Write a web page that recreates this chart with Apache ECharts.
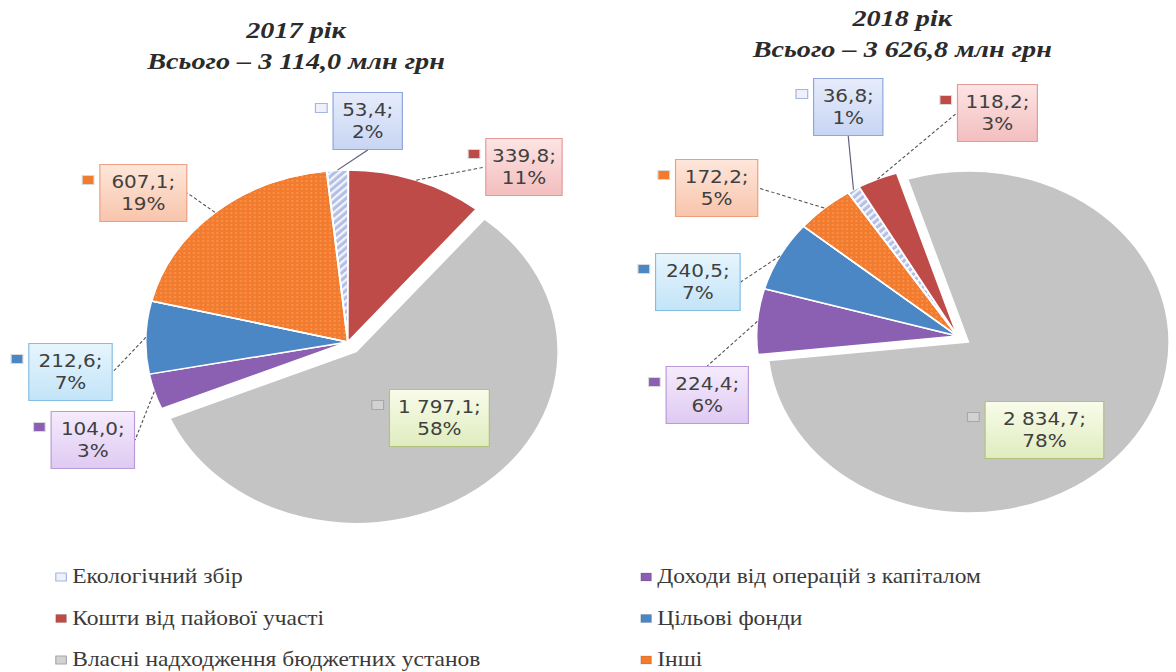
<!DOCTYPE html>
<html>
<head>
<meta charset="utf-8">
<script src="https://cdn.jsdelivr.net/npm/echarts@6/dist/echarts.min.js"></script>
<style>
html,body{margin:0;padding:0;background:#fff;overflow:hidden;}
#wrap{width:1176px;height:672px;overflow:hidden;background:#fff;}
#chart{width:1001px;height:672px;transform:scaleX(1.174825);transform-origin:0 0;}
</style>
</head>
<body>
<div id="wrap"><div id="chart"></div></div>
<script>
// ---- data ----
const categories = ['Екологічний збір', 'Кошти від пайової участі', 'Власні надходження бюджетних установ', 'Доходи від операцій з капіталом', 'Цільові фонди', 'Інші'];
const values2017 = [53.4, 339.8, 1797.1, 104.0, 212.6, 607.1];
const values2018 = [36.8, 118.2, 2834.7, 224.4, 240.5, 172.2];
const years = ['2017 рік', '2018 рік'];

// ---- styling / layout ----
const sliceColors = ['#b4bfe6', '#bf4b48', '#c4c4c4', '#8b5fb2', '#4b86c5', '#f27b2e'];
const iconColors = ['#eef1fb', '#bf4b48', '#d2d2d2', '#8b5fb2', '#4b86c5', '#f27b2e'];
const boxTop = ['#e6ecfb', '#fde4e4', '#f8fcea', '#f5ebfc', '#e6f5fd', '#fee6da'];
const boxBot = ['#c8d5f3', '#f3bebe', '#e0ecbf', '#dfcaf2', '#c3e4f8', '#f8c5ac'];
const boxBorder = ['#8ea6dc', '#e39a9a', '#b1c27c', '#b99bd9', '#84bde2', '#ee9f80'];

const centers = [[296, 342], [815, 336]];
const radii = [172, 171];
const startAngles = [96, 123];
const offsets = [12, 11];
// label boxes: centre x/y and outer width (chart space)
const labelBoxes = [
  [{cx:313, cy:121, w:58}, {cx:446, cy:167, w:64}, {cx:374, cy:418, w:84}, {cx:79, cy:440, w:70}, {cx:60, cy:372, w:70}, {cx:122, cy:193, w:73}],
  [{cx:722, cy:107, w:58}, {cx:849, cy:113, w:67}, {cx:889, cy:430, w:100}, {cx:602, cy:395, w:69}, {cx:594, cy:282, w:71}, {cx:610, cy:188, w:69}]
];
const PADV = 6, PADH = 4, LH = 22;

function fmt(v) {
  const s = v.toFixed(1).split('.');
  return s[0].replace(/\B(?=(\d{3})+(?!\d))/g, ' ') + ',' + s[1];
}
function sum(a) { return a.reduce((x, y) => x + y, 0); }
function grad(t, b) {
  return new echarts.graphic.LinearGradient(0, 0, 0, 1, [{offset:0, color:t}, {offset:1, color:b}]);
}
const decals = [
  {symbol:'rect', symbolSize:1, color:'rgba(255,255,255,0.85)', dashArrayX:[1, 0], dashArrayY:[2, 3], rotation:-Math.PI / 4},
  null,
  null,
  null,
  null,
  {symbol:'circle', symbolSize:0.8, color:'rgba(255,200,150,0.35)', dashArrayX:[2, 2], dashArrayY:[2, 2]}
];

const pieBase = k => ({
  type: 'pie', center: centers[k], radius: radii[k],
  startAngle: startAngles[k], clockwise: true, percentPrecision: 0,
  avoidLabelOverlap: false, emphasis: {disabled: true}
});

// visible sectors (the big grey one pulled out)
function sectorSeries(k, vals) {
  return Object.assign(pieBase(k), {
    name: years[k], selectedMode: 'single', selectedOffset: offsets[k],
    itemStyle: {borderColor: '#fff', borderWidth: 1.5},
    select: {itemStyle: {borderColor: '#fff', borderWidth: 1.5}},
    label: {show: false}, labelLine: {show: false},
    data: vals.map((v, i) => {
      const d = {name: categories[i], value: v, selected: i === 2, itemStyle: {color: sliceColors[i]}};
      if (decals[i]) d.itemStyle.decal = decals[i];
      return d;
    })
  });
}

// data labels with boxes and leader lines
function labelSeries(k, vals) {
  return Object.assign(pieBase(k), {
    name: years[k] + ' labels', silent: true, z: 3,
    itemStyle: {color: 'rgba(0,0,0,0)', borderWidth: 0},
    label: {
      show: true, position: 'outside',
      formatter: p => fmt(p.value) + ';\n' + p.percent + '%',
      fontFamily: 'DejaVu Sans', fontSize: 17, lineHeight: LH, color: '#404040',
      padding: [PADV, PADH], borderWidth: 1, align: 'center'
    },
    labelLine: {show: true, length: 8, length2: 0, lineStyle: {color: '#505050', width: 1, type: [3, 2]}},
    labelLayout: p => {
      const L = labelBoxes[k][p.dataIndex];
      return {x: L.cx, y: L.cy, align: 'center', verticalAlign: 'middle'};
    },
    data: vals.map((v, i) => {
      const d = {
        name: categories[i], value: v,
        itemStyle: {color: 'rgba(0,0,0,0)'},
        label: {width: labelBoxes[k][i].w - 2 * PADH, backgroundColor: grad(boxTop[i], boxBot[i]), borderColor: boxBorder[i]}
      };
      if (i === 2) d.labelLine = {show: false};
      if (i === 0) d.labelLine = {lineStyle: {type: 'solid', color: '#5a5f7a'}};
      return d;
    })
  });
}

// legend keys next to the data labels
function iconSeries(k, vals) {
  return Object.assign(pieBase(k), {
    name: years[k] + ' keys', silent: true, z: 4,
    itemStyle: {color: 'rgba(0,0,0,0)', borderWidth: 0},
    label: {show: true, position: 'outside', formatter: '{i|}'},
    labelLine: {show: false},
    labelLayout: p => {
      const L = labelBoxes[k][p.dataIndex];
      const h = 2 * LH + 2 * PADV;
      return {x: L.cx - L.w / 2 - 10.5, y: L.cy - h / 2 + 15, align: 'center', verticalAlign: 'middle'};
    },
    data: vals.map((v, i) => ({
      name: categories[i], value: v,
      itemStyle: {color: 'rgba(0,0,0,0)'},
      label: {rich: {i: {width: 9, height: 8, backgroundColor: iconColors[i],
        borderColor: i === 0 ? '#a7b4e0' : (i === 2 ? '#a8a8a8' : 'rgba(0,0,0,0.15)'), borderWidth: 1}}}
    }))
  });
}

function legendItems(a, b) {
  return categories.slice(a, b).map((n, j) => {
    const i = a + j;
    return {name: n, itemStyle: {color: iconColors[i], borderColor: i === 0 ? '#a7b4e0' : (i === 2 ? '#a8a8a8' : 'rgba(0,0,0,0.12)'), borderWidth: 1, decal: 'none'}};
  });
}

const titleStyle = {fontFamily: 'Liberation Serif', fontStyle: 'italic', fontWeight: 'bold', fontSize: 24, lineHeight: 31, color: '#2b2b2b'};
const legendBase = {
  orient: 'vertical', top: 567, itemGap: 21.5, itemWidth: 9, itemHeight: 8, padding: 0,
  icon: 'rect', selectedMode: false,
  textStyle: {fontFamily: 'Liberation Serif', fontSize: 20, color: '#3a3a3a'}
};

const chart = echarts.init(document.getElementById('chart'), null, {renderer: 'svg'});
chart.setOption({
  backgroundColor: '#fff',
  animation: false,
  title: [
    {text: years[0] + '\nВсього – ' + fmt(sum(values2017)) + ' млн грн', left: 252, top: 15, textAlign: 'center', padding: 0, textStyle: titleStyle},
    {text: years[1] + '\nВсього – ' + fmt(sum(values2018)) + ' млн грн', left: 768, top: 3, textAlign: 'center', padding: 0, textStyle: titleStyle}
  ],
  legend: [
    Object.assign({}, legendBase, {left: 47, data: legendItems(0, 3)}),
    Object.assign({}, legendBase, {left: 545, data: legendItems(3, 6)})
  ],
  series: [
    sectorSeries(0, values2017), sectorSeries(1, values2018),
    labelSeries(0, values2017), labelSeries(1, values2018),
    iconSeries(0, values2017), iconSeries(1, values2018)
  ]
});
</script>
</body>
</html>
